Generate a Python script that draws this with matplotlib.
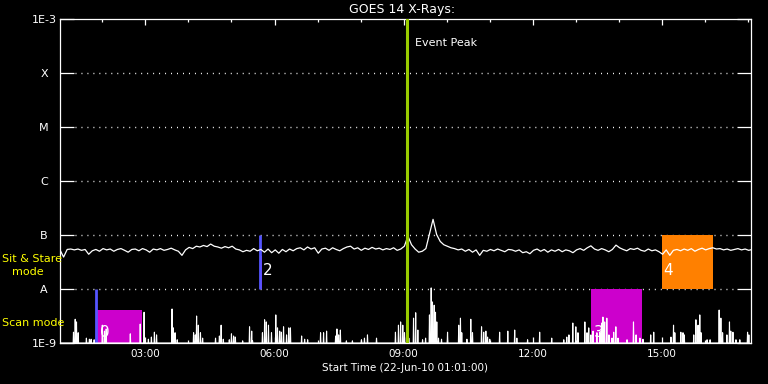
import matplotlib
matplotlib.use("Agg")
import matplotlib.pyplot as plt
from matplotlib.ticker import FixedLocator, NullLocator
import numpy as np

# GOES 14 long channel, 5-min samples from 01:01 UT, flux in units of 1e-8 W/m^2
start_hr = 1 + 1 / 60
cadence_hr = 5 / 60
goes_flux = [
    5.3, 3.9, 5.4, 5.5, 5.3, 5.5, 5.2, 5.4, 4.4, 5.1, 5.4, 5.0, 5.6, 5.3, 5.5, 5.0,
    5.4, 5.6, 5.2, 4.8, 5.4, 5.5, 5.1, 5.6, 5.3, 4.8, 5.5, 5.3, 5.6, 5.2, 5.4, 5.7,
    5.3, 5.0, 4.2, 5.3, 5.9, 5.6, 6.2, 6.0, 6.4, 6.1, 6.8, 6.2, 6.0, 5.7, 6.1, 5.8,
    6.2, 5.5, 5.3, 4.9, 5.2, 5.0, 5.6, 5.1, 5.4, 4.8, 5.5, 4.7, 5.3, 4.6, 5.4, 4.9,
    5.5, 5.1, 5.6, 5.8, 5.3, 6.0, 5.5, 5.8, 4.6, 5.5, 5.7, 5.2, 5.8, 5.4, 5.1, 5.6,
    6.0, 6.2, 5.5, 5.8, 5.2, 5.7, 5.4, 5.9, 5.5, 5.7, 5.3, 5.6, 5.4, 5.8, 5.2, 5.5,
    6.2, 9.5, 6.6, 5.5, 4.8, 5.0, 5.6, 10.5, 19.5, 10.2, 7.6, 6.6, 6.2, 5.8, 5.6, 5.3,
    5.5, 5.0, 5.4, 4.8, 5.3, 4.2, 5.2, 5.0, 5.4, 5.1, 5.5, 5.2, 4.9, 5.4, 5.3, 5.0,
    5.3, 4.7, 4.9, 4.5, 5.2, 5.5, 5.0, 5.4, 4.8, 5.3, 5.0, 5.4, 4.9, 5.3, 5.1, 4.7,
    5.3, 5.6, 5.2, 5.8, 6.3, 5.5, 5.2, 5.6, 5.3, 4.9, 5.4, 6.5, 5.8, 5.4, 5.1, 5.6,
    5.4, 5.7, 5.2, 5.0, 5.5, 5.1, 5.3, 4.9, 4.4, 5.3, 4.2, 5.2, 5.4, 5.1, 5.5, 5.2,
    5.6, 5.0, 5.4, 5.7, 5.3, 5.6, 5.8, 5.5, 5.6, 5.3, 5.5, 5.2, 5.4, 5.6, 5.3, 5.5,
    5.2, 5.4,
]

# scan-mode trace: spike times (hours UT) and log10 of peak flux
scan_times = [
    1.02, 1.33, 1.37, 1.40, 1.44, 1.63, 1.70, 1.74, 1.81, 2.00, 2.05, 2.09, 2.65, 2.88,
    2.97, 3.07, 3.14, 3.21, 3.26, 3.62, 3.65, 3.69, 3.74, 4.12, 4.16, 4.19, 4.23, 4.28,
    4.33, 4.63, 4.72, 4.76, 4.81, 4.95, 5.00, 5.05, 5.09, 5.26, 5.42, 5.47, 5.49, 5.72,
    5.77, 5.81, 5.86, 5.93, 6.03, 6.07, 6.12, 6.16, 6.21, 6.28, 6.33, 6.37, 6.63, 6.70,
    6.77, 7.07, 7.14, 7.21, 7.42, 7.45, 7.49, 7.53, 7.67, 7.81, 8.02, 8.09, 8.16, 8.37,
    8.81, 8.88, 8.93, 8.98, 9.02, 9.12, 9.23, 9.28, 9.33, 9.44, 9.51, 9.60, 9.64, 9.67,
    9.71, 9.74, 9.77, 9.81, 9.88, 10.02, 10.28, 10.32, 10.35, 10.47, 10.56, 10.60, 10.81,
    10.86, 10.91, 10.95, 11.00, 11.23, 11.42, 11.58, 11.63, 11.88, 12.16, 12.44, 12.72,
    12.79, 12.84, 12.93, 13.00, 13.05, 13.21, 13.26, 13.30, 13.35, 13.40, 13.49, 13.56,
    13.60, 13.63, 13.67, 13.72, 13.77, 13.84, 13.88, 13.93, 13.98, 14.19, 14.34, 14.40,
    14.49, 14.56, 14.74, 14.81, 15.21, 15.27, 15.30, 15.44, 15.49, 15.52, 15.74, 15.79,
    15.84, 15.88, 15.91, 16.05, 16.12, 16.33, 16.37, 16.41, 16.51, 16.57, 16.60, 16.65,
    16.72, 16.81, 16.99, 17.02,
]
scan_log = [
    -8.83, -8.80, -8.56, -8.61, -8.81, -8.91, -8.93, -8.93, -8.94, -8.67, -8.78, -8.74, -8.83, -8.65,
    -8.43, -8.93, -8.89, -8.80, -8.85, -8.37, -8.72, -8.81, -8.94, -8.81, -8.85, -8.50, -8.67, -8.81,
    -8.91, -8.91, -8.87, -8.67, -8.93, -8.94, -8.83, -8.87, -8.89, -8.96, -8.70, -8.78, -8.96, -8.81,
    -8.57, -8.61, -8.67, -8.81, -8.48, -8.72, -8.78, -8.80, -8.70, -8.85, -8.72, -8.72, -8.87, -8.93,
    -8.94, -8.81, -8.81, -8.78, -8.87, -8.74, -8.85, -8.76, -8.96, -8.96, -8.94, -8.91, -8.85, -8.91,
    -8.80, -8.67, -8.61, -8.67, -8.81, -8.91, -8.54, -8.44, -8.76, -8.94, -8.91, -8.48, -7.98, -8.24,
    -8.30, -8.43, -8.61, -8.91, -8.93, -8.80, -8.67, -8.54, -8.81, -8.93, -8.56, -8.81, -8.70,
    -8.80, -8.78, -8.89, -8.93, -8.80, -8.78, -8.76, -8.91, -8.94, -8.80, -8.91, -8.94,
    -8.89, -8.85, -8.63, -8.70, -8.81, -8.61, -8.81, -8.72, -8.85, -8.78, -8.81, -8.80,
    -8.63, -8.52, -8.61, -8.54, -8.85, -8.91, -8.80, -8.70, -8.91, -8.94, -8.61, -8.85,
    -8.91, -8.93, -8.85, -8.80, -8.89, -8.67, -8.81, -8.80, -8.81, -8.85, -8.85, -8.57,
    -8.67, -8.48, -8.81, -8.94, -8.94, -8.39, -8.54, -8.81, -8.85, -8.61, -8.78, -8.80,
    -8.94, -8.94, -8.80, -8.85,
]
assert len(scan_times) == len(scan_log)

# observing blocks (hours UT, flux range W/m^2)
box_labels = ["0", "2", "3", "4"]
box_start = [1.88, 5.69, 13.35, 15.00]
box_end = [2.93, 5.72, 14.53, 16.19]
box_low = [1e-9, 1e-8, 1e-9, 1e-8]
box_high = [4.1e-9, 4.1e-8, 1e-8, 1e-7]
box_colors = ["#cc00cc", "#cc00cc", "#cc00cc", "#ff8000"]
label_offsets = [(2, 2), (1, 8), (2, 2), (1, 8)]  # points

# pointing change markers (hours UT, flux range)
mark_times = [1.85, 5.67]
mark_low = [1e-9, 1e-8]
mark_high = [1e-8, 1e-7]

event_peak = 9.07

level_values = [1e-9, 1e-8, 1e-7, 1e-6, 1e-5, 1e-4, 1e-3]
level_names = ["1E-9", "A", "B", "C", "M", "X", "1E-3"]
hour_ticks = [3, 6, 9, 12, 15]
hour_labels = ["03:00", "06:00", "09:00", "12:00", "15:00"]
end_hr = 17.07

W, H = 768, 384
fig = plt.figure(figsize=(W / 100, H / 100), dpi=100, facecolor="black")
ax = fig.add_axes([60 / W, 1 - 343 / H, 691 / W, 324 / H])
ax.set_facecolor("black")
ax.set_yscale("log")
ax.set_ylim(1e-9, 1e-3)
ax.set_xlim(start_hr, end_hr)

for s in ax.spines.values():
    s.set_color("white")
    s.set_linewidth(0.9)

# dotted level lines
for lv in level_values[1:-1]:
    ax.axhline(lv, xmin=15 / 691, xmax=1 - 15 / 691, color="white",
               lw=1.0, linestyle=(0, (0.7, 3.6)), zorder=1)

for lab, s0, s1, lo, hi, c, off in zip(box_labels, box_start, box_end, box_low,
                                        box_high, box_colors, label_offsets):
    ax.fill_between([s0, s1], [lo, lo], [hi, hi], color=c, lw=0, zorder=2)
    ax.annotate(lab, xy=(s0, lo), xytext=off, textcoords="offset points",
                ha="left", va="bottom", color="white", fontsize=11, zorder=6)

ax.vlines(mark_times, mark_low, mark_high, color="#5555ff", lw=2.0, zorder=3)

t = start_hr + cadence_hr * np.arange(len(goes_flux))
ax.plot(t, np.array(goes_flux) * 1e-8, color="white", lw=0.9, zorder=4)

# scan trace drawn as spikes rising from the 1E-9 floor
sx, sy = [], []
for tt, lg in zip(scan_times, scan_log):
    sx += [tt - 0.008, tt, tt + 0.008]
    sy += [1e-9, 10 ** lg, 1e-9]
ax.plot(sx, sy, color="white", lw=0.8, zorder=4)

ax.axvline(event_peak, color="#99cc00", lw=2.2, zorder=5)
ax.annotate("Event Peak", xy=(event_peak, 3.6e-4), xytext=(6, 0),
            textcoords="offset points", ha="left", va="center",
            color="white", fontsize=8)

ax.yaxis.set_major_locator(FixedLocator(level_values))
ax.yaxis.set_minor_locator(NullLocator())
ax.set_yticklabels(level_names)
ax.tick_params(axis="y", which="major", direction="in", length=10, width=0.9,
               color="white", left=True, right=True, labelcolor="white",
               labelsize=8, pad=11.5)
for lbl in ax.get_yticklabels():
    lbl.set_horizontalalignment("center")

ax.xaxis.set_major_locator(FixedLocator(hour_ticks))
ax.xaxis.set_minor_locator(FixedLocator(range(2, 18)))
ax.set_xticklabels(hour_labels)
ax.tick_params(axis="x", which="major", direction="in", length=4.3, width=0.9,
               color="white", top=True, bottom=True, labelcolor="white",
               labelsize=7.5, pad=4)
ax.tick_params(axis="x", which="minor", direction="in", length=2.2, width=0.9,
               color="white", top=True, bottom=True)

fig.text(402 / W, 1 - 10 / H, "GOES 14 X-Rays:", ha="center", va="center",
         color="white", fontsize=9)
fig.text(405 / W, 1 - 368 / H, "Start Time (22-Jun-10 01:01:00)", ha="center",
         va="center", color="white", fontsize=7.5)
fig.text(2 / W, 1 - 259 / H, "Sit & Stare", ha="left", va="center",
         color="yellow", fontsize=8)
fig.text(12 / W, 1 - 272 / H, "mode", ha="left", va="center",
         color="yellow", fontsize=8)
fig.text(2 / W, 1 - 323 / H, "Scan mode", ha="left", va="center",
         color="yellow", fontsize=8)

fig.savefig("out.png", dpi=100, facecolor="black")
